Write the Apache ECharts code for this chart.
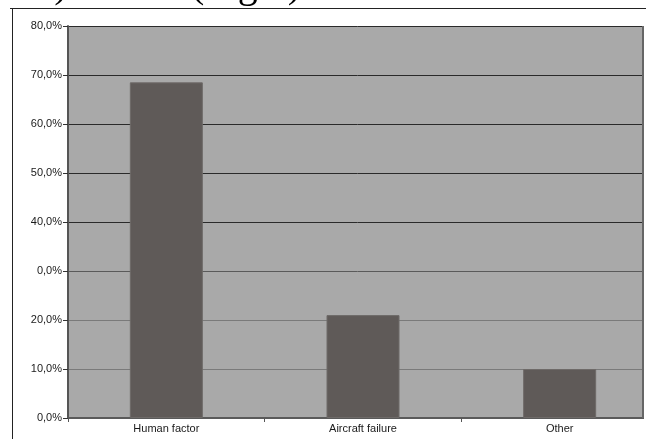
<!DOCTYPE html>
<html lang="en">
<head>
    <meta charset="UTF-8">
    <title>Accident causes</title>
    <style>
        * { margin: 0; padding: 0; }
        html, body { width: 646px; height: 439px; background: #fff; overflow: hidden; }
        #main { width: 646px; height: 439px; }
    </style>
    <script src="https://cdn.jsdelivr.net/npm/echarts@6/dist/echarts.min.js"></script>
</head>
<body>
    <div id="main"></div>
<script>
    var categories = ['Human factor', 'Aircraft failure', 'Other'];
    var shares = [68.5, 21.0, 10.0];
    // tick labels as printed in the source (the 30% one reads "0,0%")
    var yTickLabels = ['0,0%', '10,0%', '20,0%', '0,0%', '40,0%', '50,0%', '60,0%', '70,0%', '80,0%'];
    var captionText = 'etc.) \u2013 10% (Fig.5).';

    function initEchart() {
        var myChart = echarts.init(document.getElementById('main'));
        var option = {
            animation: false,
            backgroundColor: '#fff',
            grid: {
                left: 68,
                top: 26,
                width: 590,
                bottom: 21,
                outerBoundsMode: 'none',
                show: true,
                backgroundColor: '#a9a9a9',
                borderWidth: 0
            },
            xAxis: {
                type: 'category',
                data: categories,
                axisLine: { lineStyle: { color: '#5a5a5a', width: 2 } },
                axisTick: { show: true, length: 4, lineStyle: { color: '#555' } },
                axisLabel: {
                    color: '#1a1a1a',
                    fontSize: 11,
                    fontFamily: 'Liberation Sans',
                    margin: 5
                }
            },
            yAxis: {
                type: 'value',
                min: 0,
                max: 80,
                interval: 10,
                axisLine: { show: true, lineStyle: { color: '#555', width: 2 } },
                axisTick: { show: true, length: 5, lineStyle: { color: '#333' } },
                axisLabel: {
                    color: '#1a1a1a',
                    fontSize: 11,
                    fontFamily: 'Liberation Sans',
                    margin: 6,
                    formatter: function (v) {
                        return yTickLabels[Math.round(v / 10)];
                    }
                },
                splitLine: {
                    show: true,
                    lineStyle: {
                        color: ['#777', '#7a7a7a', '#7a7a7a', '#5a5a5a', '#2a2a2a', '#2a2a2a', '#2a2a2a', '#2a2a2a', '#2a2a2a'],
                        width: 1
                    }
                }
            },
            series: [{
                type: 'bar',
                data: shares,
                barWidth: 73,
                itemStyle: {
                    color: '#5f5a58',
                    borderColor: '#6e6a68',
                    borderWidth: 1
                }
            }],
            graphic: [
                {
                    type: 'line',
                    shape: { x1: 643, y1: 26, x2: 643, y2: 418 },
                    style: { stroke: '#666', lineWidth: 2 },
                    z: 10
                },
                {
                    type: 'rect',
                    shape: { x: 644, y: 20, width: 4, height: 420 },
                    style: { fill: '#fff' },
                    z: 9
                },
                {
                    type: 'line',
                    shape: { x1: 10, y1: 8.5, x2: 646, y2: 8.5 },
                    style: { stroke: '#222', lineWidth: 1 }
                },
                {
                    type: 'line',
                    shape: { x1: 12.5, y1: 8, x2: 12.5, y2: 439 },
                    style: { stroke: '#222', lineWidth: 1 }
                },
                {
                    type: 'text',
                    style: {
                        x: 311,
                        y: 6,
                        align: 'right',
                        verticalAlign: 'bottom',
                        text: captionText,
                        font: '40px "Liberation Serif"',
                        fill: '#000'
                    }
                }
            ]
        };
        myChart.setOption(option);
    }
    initEchart();
</script>
</body>
</html>
